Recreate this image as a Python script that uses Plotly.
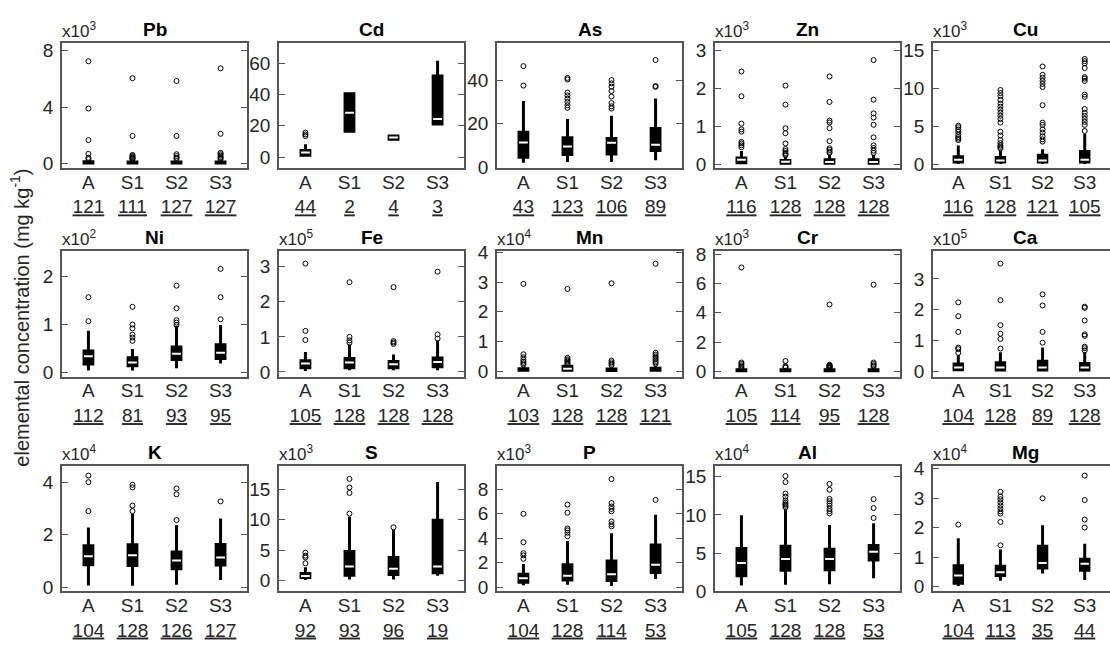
import plotly.graph_objects as go

W, H = 1110, 645
GROUPS = ["A", "S1", "S2", "S3"]

# ---- data (values in displayed units, i.e. divided by the panel multiplier) ----
Pb = dict(q1=[0.02, 0.02, 0.02, 0.02], med=[0.06, 0.05, 0.05, 0.05], q3=[0.12, 0.10, 0.10, 0.10],
          lo=[0, 0, 0, 0], hi=[0.22, 0.20, 0.20, 0.20],
          out=[[7.25, 3.9, 1.65, 0.68, 0.4, 0.3], [6.05, 1.95, 0.6, 0.52, 0.45, 0.4, 0.35, 0.3],
               [5.85, 1.95, 0.65, 0.52, 0.4, 0.32], [6.75, 2.1, 0.75, 0.65, 0.55, 0.45, 0.38, 0.3]],
          n=[121, 111, 127, 127])
Cd = dict(q1=[1.2, 16.5, 11.5, 21.2], med=[3.0, 28.4, 12.5, 24.3], q3=[4.3, 40.4, 13.5, 51.8],
          lo=[0.5, 16.5, 10.5, 20.5], hi=[8.3, 40.4, 14.5, 61.5],
          out=[[15.7, 14.5, 13.5], [], [], []], n=[44, 2, 4, 3])
As = dict(q1=[4.7, 5.9, 6.2, 7.8], med=[11.5, 9.6, 11.3, 10.4], q3=[16.1, 13.6, 13.3, 17.8],
          lo=[2.2, 2.5, 2.5, 3.3], hi=[30.4, 22.2, 23.7, 31.6],
          out=[[46.4, 37.5], [41, 40.3, 34.3, 33, 31.5, 30, 28.5, 27.3],
               [40, 38.5, 37, 35, 32.5, 29.5, 28, 27], [49.2, 37.3, 36.9]],
          n=[43, 123, 106, 89])
Zn = dict(q1=[0.04, 0.03, 0.03, 0.03], med=[0.12, 0.07, 0.06, 0.06], q3=[0.17, 0.10, 0.12, 0.12],
          lo=[0, 0, 0, 0], hi=[0.35, 0.20, 0.25, 0.25],
          out=[[2.44, 1.79, 1.07, 0.92, 0.86, 0.59, 0.55, 0.5, 0.45],
               [2.07, 1.57, 0.95, 0.82, 0.55, 0.4, 0.35, 0.3, 0.27, 0.24],
               [2.31, 1.64, 1.15, 1.1, 0.95, 0.61, 0.42, 0.38, 0.33, 0.3],
               [2.74, 1.7, 1.34, 1.23, 1.04, 0.71, 0.5, 0.43, 0.36, 0.3]],
          n=[116, 128, 128, 128])
Cu = dict(q1=[0.3, 0.3, 0.3, 0.3], med=[0.6, 0.5, 0.5, 0.6], q3=[1.0, 0.9, 1.2, 1.7],
          lo=[0.05, 0.05, 0.05, 0.05], hi=[2.5, 1.8, 2.0, 4.0],
          out=[[5.1, 4.9, 4.6, 4.3, 3.9, 3.6, 3.4, 3.2],
               [9.8, 9.4, 9.0, 8.5, 8.0, 7.6, 7.2, 6.8, 6.4, 6.0, 5.5, 4.3, 3.8, 3.2, 2.8, 2.5, 2.3, 2.1],
               [12.9, 11.8, 11.4, 11.0, 10.6, 10.2, 7.8, 5.5, 5.2, 4.6, 4.2, 3.7, 3.3, 3.0],
               [13.9, 13.6, 13.3, 12.7, 11.5, 11.3, 11.0, 9.2, 8.9, 7.3, 6.8, 6.4, 6.0, 5.6, 5.2, 4.4]],
          n=[116, 128, 121, 105])
Ni = dict(q1=[0.17, 0.13, 0.26, 0.28], med=[0.33, 0.20, 0.38, 0.40], q3=[0.44, 0.30, 0.52, 0.57],
          lo=[0.03, 0.03, 0.08, 0.18], hi=[0.86, 0.48, 0.96, 0.98],
          out=[[1.56, 1.06], [1.36, 0.99, 0.91, 0.78, 0.72, 0.65], [1.8, 1.33, 1.08, 1.03, 0.98],
               [2.15, 1.56, 1.1]],
          n=[112, 81, 93, 95])
Fe = dict(q1=[0.12, 0.12, 0.12, 0.15], med=[0.24, 0.27, 0.22, 0.28], q3=[0.32, 0.38, 0.30, 0.40],
          lo=[0.03, 0.05, 0.05, 0.05], hi=[0.57, 0.78, 0.50, 0.90],
          out=[[3.09, 1.17, 0.91], [2.56, 1.0, 0.9, 0.83], [2.42, 0.88, 0.84, 0.8], [2.86, 1.07, 0.95]],
          n=[105, 128, 128, 128])
Mn = dict(q1=[0.03, 0.03, 0.02, 0.03], med=[0.05, 0.08, 0.04, 0.06], q3=[0.08, 0.17, 0.07, 0.10],
          lo=[0, 0, 0, 0], hi=[0.15, 0.20, 0.12, 0.18],
          out=[[2.94, 0.57, 0.47, 0.38, 0.32, 0.27, 0.22], [2.77, 0.45, 0.4, 0.36, 0.32, 0.28, 0.24],
               [2.96, 0.36, 0.3, 0.25, 0.2], [3.62, 0.62, 0.56, 0.5, 0.45, 0.4, 0.35, 0.3, 0.25]],
          n=[103, 128, 128, 121])
Cr = dict(q1=[0.03, 0.03, 0.03, 0.03], med=[0.05, 0.05, 0.05, 0.05], q3=[0.10, 0.10, 0.10, 0.10],
          lo=[0, 0, 0, 0], hi=[0.15, 0.15, 0.15, 0.15],
          out=[[7.1, 0.6, 0.5, 0.4, 0.3, 0.22], [0.7, 0.35, 0.3, 0.25],
               [4.57, 0.45, 0.41, 0.37, 0.33, 0.29, 0.25, 0.21], [5.92, 0.6, 0.5, 0.4, 0.32]],
          n=[105, 114, 95, 128])
Ca = dict(q1=[0.05, 0.04, 0.04, 0.04], med=[0.12, 0.12, 0.12, 0.12], q3=[0.24, 0.28, 0.33, 0.25],
          lo=[0, 0, 0, 0], hi=[0.52, 0.62, 0.77, 0.62],
          out=[[2.24, 1.79, 1.28, 0.77, 0.72, 0.6], [3.5, 2.31, 1.5, 1.22, 1.05, 0.74],
               [2.5, 2.14, 1.28, 0.93], [2.1, 2.06, 1.65, 1.2, 1.15, 0.8, 0.75, 0.68]],
          n=[104, 128, 89, 128])
K = dict(q1=[0.86, 0.83, 0.71, 0.85], med=[1.18, 1.22, 1.02, 1.14], q3=[1.58, 1.62, 1.35, 1.63],
         lo=[0.07, 0.06, 0.10, 0.28], hi=[2.28, 2.8, 2.36, 2.62],
         out=[[4.25, 4.0, 2.9], [3.9, 3.8, 3.11, 2.9], [3.76, 3.54, 2.56], [3.27]],
         n=[104, 128, 126, 127])
S = dict(q1=[0.5, 0.9, 1.0, 1.32], med=[0.75, 2.34, 1.96, 2.34], q3=[1.17, 4.8, 3.8, 9.9],
         lo=[0.1, 0.2, 0.2, 0.8], hi=[2.2, 10.5, 8.3, 16.2],
         out=[[4.6, 4.1, 3.8, 2.85], [16.7, 15.3, 14.4, 11.0], [8.75], []],
         n=[92, 93, 96, 19])
P = dict(q1=[0.40, 0.59, 0.55, 1.19], med=[0.72, 0.93, 1.06, 1.83], q3=[1.06, 1.83, 2.15, 3.44],
         lo=[0.15, 0.2, 0.1, 0.67], hi=[1.9, 3.76, 4.42, 5.93],
         out=[[6.0, 3.68, 2.78, 2.6, 2.32], [6.75, 6.09, 4.8, 4.65, 4.45, 4.16],
              [8.84, 6.88, 6.6, 6.4, 6.2, 5.37, 5.15, 4.97], [7.14]],
         n=[104, 128, 114, 53])
Al = dict(q1=[2.03, 2.76, 2.8, 4.1], med=[3.68, 4.23, 4.23, 5.17], q3=[5.6, 5.9, 5.5, 6.0],
          lo=[0.76, 0.85, 0.9, 1.69], hi=[9.95, 10.7, 8.68, 8.9],
          out=[[], [15.1, 14.3, 12.8, 12.4, 11.9, 11.6, 11.4, 11.2, 11.0],
               [14.07, 13.3, 12.1, 11.8, 11.5, 11.2, 10.8, 10.5, 10.2], [12.07, 10.9, 9.6]],
          n=[105, 128, 128, 53])
Mg = dict(q1=[0.11, 0.38, 0.63, 0.55], med=[0.38, 0.49, 0.80, 0.77], q3=[0.71, 0.69, 1.37, 0.93],
          lo=[0.02, 0.2, 0.44, 0.22], hi=[1.64, 1.26, 2.08, 1.45],
          out=[[2.1], [3.21, 3.05, 2.96, 2.85, 2.75, 2.65, 2.55, 2.47, 2.19, 1.4], [2.99],
               [3.76, 2.93, 2.27, 2.0]],
          n=[104, 113, 35, 44])

NAMES = ["Pb", "Cd", "As", "Zn", "Cu", "Ni", "Fe", "Mn", "Cr", "Ca", "K", "S", "P", "Al", "Mg"]
PANELS = [Pb, Cd, As, Zn, Cu, Ni, Fe, Mn, Cr, Ca, K, S, P, Al, Mg]
EXPONENTS = [3, None, None, 3, 3, 2, 5, 4, 3, 5, 4, 3, 3, 4, 4]
Y_RANGES = [[-0.34, 8.55], [-7, 72.8], [-0.3, 57], [-0.1, 3.19], [-0.5, 16.0],
            [-0.1, 2.53], [-0.14, 3.46], [-0.19, 4.06], [-0.38, 8.25], [-0.18, 3.92],
            [-0.15, 4.61], [-1.75, 18.8], [-0.34, 9.9], [-0.02, 16.4], [-0.16, 4.08]]
Y_DTICK = [4, 20, 20, 1, 5, 1, 1, 1, 2, 1, 2, 5, 2, 5, 1]

# ---- layout geometry (pixels) ----
COL_LEFT = [62, 279, 497, 715, 933]
COL_W = 185
ROWS = [(35, 164), (249, 379), (471, 600)]

FONT = "Liberation Sans, Arial, sans-serif"
TXT = "#262626"
AX = "#555555"

fig = go.Figure()
layout = dict(width=W, height=H, margin=dict(l=0, r=0, t=0, b=0),
              paper_bgcolor="white", plot_bgcolor="white", showlegend=False,
              font=dict(family=FONT, color=TXT, size=19))
annotations = []

for i, (name, d) in enumerate(zip(NAMES, PANELS)):
    r, c = divmod(i, 5)
    k = "" if i == 0 else str(i + 1)
    x0 = COL_LEFT[c] / W
    x1 = min((COL_LEFT[c] + COL_W) / W, 1.0)
    top, bot = ROWS[r]
    y0 = 1 - bot / H
    y1 = 1 - top / H
    xs = list(range(len(GROUPS)))
    px_per_unit = (bot - top) / (Y_RANGES[i][1] - Y_RANGES[i][0])

    fig.add_trace(go.Box(
        x=xs, q1=d["q1"], median=d["med"], q3=d["q3"],
        lowerfence=d["lo"], upperfence=d["hi"],
        fillcolor="black", line=dict(color="black", width=3),
        width=0.2, whiskerwidth=0, boxpoints=False, hoverinfo="skip",
        xaxis="x" + k, yaxis="y" + k))

    mx, my = [], []
    for j, m in enumerate(d["med"]):
        if (d["q3"][j] - d["q1"][j]) * px_per_unit < 2.5:
            continue  # box too small for a visible median stripe
        mx += [j - 0.1, j + 0.1, None]
        my += [m, m, None]
    if mx:
        fig.add_trace(go.Scatter(x=mx, y=my, mode="lines",
                                 line=dict(color="white", width=2), hoverinfo="skip",
                                 xaxis="x" + k, yaxis="y" + k))

    ox, oy = [], []
    for j, vals in enumerate(d["out"]):
        ox += [j] * len(vals)
        oy += vals
    fig.add_trace(go.Scatter(x=ox, y=oy, mode="markers",
                             marker=dict(symbol="circle-open", size=5, color="black",
                                         line=dict(width=1, color="black")),
                             hoverinfo="skip", xaxis="x" + k, yaxis="y" + k))

    ticktext = [f"{g}<br><u>{n}</u>" for g, n in zip(GROUPS, d["n"])]
    layout["xaxis" + k] = dict(
        domain=[x0, x1], anchor="y" + k, range=[-0.6, 3.6],
        tickmode="array", tickvals=xs, ticktext=ticktext, ticks="",
        showline=True, linecolor=AX, linewidth=1.5, mirror=True,
        showgrid=False, zeroline=False, fixedrange=True,
        tickfont=dict(size=19, color=TXT, family=FONT), ticklabelstandoff=-4)
    layout["yaxis" + k] = dict(
        domain=[y0, y1], anchor="x" + k, range=Y_RANGES[i],
        tick0=0, dtick=Y_DTICK[i], ticks="inside", ticklen=6, tickcolor=AX, tickwidth=1,
        showline=True, linecolor=AX, linewidth=1.5,
        mirror=("ticks" if c < 4 else False),
        showgrid=False, zeroline=False, fixedrange=True,
        tickfont=dict(size=19, color=TXT, family=FONT), ticklabelstandoff=3)

    annotations.append(dict(text=f"<b>{name}</b>", xref="paper", yref="paper",
                            x=(COL_LEFT[c] + COL_W / 2) / W,
                            y=y1, xanchor="center", yanchor="bottom", yshift=1,
                            showarrow=False, font=dict(size=19, color="black", family=FONT)))
    if EXPONENTS[i] is not None:
        annotations.append(dict(text=f"x10<sup>{EXPONENTS[i]}</sup>", xref="paper", yref="paper",
                                x=x0, y=y1, xanchor="left", yanchor="bottom", yshift=0, xshift=-2,
                                showarrow=False, font=dict(size=17, color=TXT, family=FONT)))

annotations.append(dict(text="elemental concentration (mg kg<sup>-1</sup>)", xref="paper", yref="paper",
                        x=20 / W, y=1 - 318 / H, xanchor="center", yanchor="middle",
                        textangle=-90, showarrow=False, font=dict(size=20, color=TXT, family=FONT)))
layout["annotations"] = annotations
fig.update_layout(**layout)
fig.write_html("out.html", config={"displayModeBar": False})
